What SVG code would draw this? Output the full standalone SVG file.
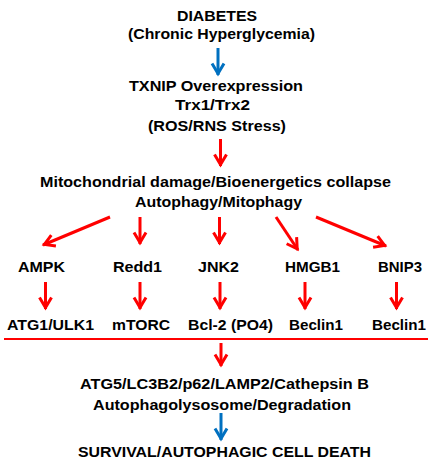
<svg xmlns="http://www.w3.org/2000/svg" width="437" height="471" viewBox="0 0 437 471">
<style>
text{font-family:"Liberation Sans",Arial,sans-serif;font-weight:bold;font-size:15px;fill:#000;text-anchor:middle}
.r{stroke:#FF0000;stroke-width:3;fill:none}
.b{stroke:#0070C0;stroke-width:3;fill:none}
</style>
<defs>
<marker id="mr" markerUnits="userSpaceOnUse" viewBox="-12 -8 16 16" markerWidth="16" markerHeight="16" refX="1.5" refY="0" orient="auto">
<path d="M-10,-6 L0,0 L-10,6" fill="none" stroke="#FF0000" stroke-width="3"/>
</marker>
<marker id="mb" markerUnits="userSpaceOnUse" viewBox="-12 -8 16 16" markerWidth="16" markerHeight="16" refX="1.5" refY="0" orient="auto">
<path d="M-10,-6 L0,0 L-10,6" fill="none" stroke="#0070C0" stroke-width="3"/>
</marker>
</defs>
<g id="connectors">
<line class="b" x1="218" y1="48" x2="218" y2="75" marker-end="url(#mb)"/>
<line class="r" x1="220.5" y1="139" x2="220.5" y2="166" marker-end="url(#mr)"/>
<line class="r" x1="110" y1="217" x2="43" y2="245" marker-end="url(#mr)"/>
<line class="r" x1="140" y1="217" x2="140" y2="244" marker-end="url(#mr)"/>
<line class="r" x1="219.5" y1="217" x2="219.5" y2="244" marker-end="url(#mr)"/>
<line class="r" x1="276" y1="217" x2="298" y2="250" marker-end="url(#mr)"/>
<line class="r" x1="316" y1="217" x2="386" y2="246" marker-end="url(#mr)"/>
<line class="r" x1="45.5" y1="282" x2="45.5" y2="309" marker-end="url(#mr)"/>
<line class="r" x1="140" y1="282" x2="140" y2="309" marker-end="url(#mr)"/>
<line class="r" x1="220" y1="282" x2="220" y2="309" marker-end="url(#mr)"/>
<line class="r" x1="305" y1="282" x2="305" y2="309" marker-end="url(#mr)"/>
<line class="r" x1="396.5" y1="282" x2="396.5" y2="309" marker-end="url(#mr)"/>
<line x1="4" y1="339" x2="428" y2="339" stroke="#FF0000" stroke-width="2"/>
<line class="r" x1="221" y1="343" x2="221" y2="366" marker-end="url(#mr)"/>
<line class="b" x1="221" y1="413" x2="221" y2="440" marker-end="url(#mb)"/>
</g>
<g id="diabetes">
<text x="217" y="21" textLength="80" lengthAdjust="spacingAndGlyphs">DIABETES</text>
<text x="221.5" y="39" textLength="187" lengthAdjust="spacingAndGlyphs">(Chronic Hyperglycemia)</text>
</g>
<g id="txnip">
<text x="216" y="90.5" textLength="174" lengthAdjust="spacingAndGlyphs">TXNIP Overexpression</text>
<text x="212.5" y="110" textLength="75" lengthAdjust="spacingAndGlyphs">Trx1/Trx2</text>
<text x="217" y="130.5" textLength="138" lengthAdjust="spacingAndGlyphs">(ROS/RNS Stress)</text>
</g>
<g id="mito">
<text x="215.5" y="186.5" textLength="351" lengthAdjust="spacingAndGlyphs">Mitochondrial damage/Bioenergetics collapse</text>
<text x="218.5" y="206.5" textLength="167" lengthAdjust="spacingAndGlyphs">Autophagy/Mitophagy</text>
</g>
<g id="ampk"><text x="41.5" y="272" textLength="47" lengthAdjust="spacingAndGlyphs">AMPK</text></g>
<g id="redd1"><text x="137.5" y="272" textLength="49" lengthAdjust="spacingAndGlyphs">Redd1</text></g>
<g id="jnk2"><text x="218.5" y="272" textLength="41" lengthAdjust="spacingAndGlyphs">JNK2</text></g>
<g id="hmgb1"><text x="312.5" y="272" textLength="55" lengthAdjust="spacingAndGlyphs">HMGB1</text></g>
<g id="bnip3"><text x="400" y="272" textLength="44" lengthAdjust="spacingAndGlyphs">BNIP3</text></g>
<g id="atg1"><text x="50.5" y="330" textLength="87" lengthAdjust="spacingAndGlyphs">ATG1/ULK1</text></g>
<g id="mtorc"><text x="141" y="330" textLength="58" lengthAdjust="spacingAndGlyphs">mTORC</text></g>
<g id="bcl2"><text x="230.5" y="330" textLength="85" lengthAdjust="spacingAndGlyphs">Bcl-2 (PO4)</text></g>
<g id="beclin1a"><text x="316" y="330" textLength="54" lengthAdjust="spacingAndGlyphs">Beclin1</text></g>
<g id="beclin1b"><text x="399" y="330" textLength="54" lengthAdjust="spacingAndGlyphs">Beclin1</text></g>
<g id="atg5">
<text x="224.5" y="389" textLength="289" lengthAdjust="spacingAndGlyphs">ATG5/LC3B2/p62/LAMP2/Cathepsin B</text>
<text x="222" y="410" textLength="258" lengthAdjust="spacingAndGlyphs">Autophagolysosome/Degradation</text>
</g>
<g id="survival"><text x="224.5" y="456.5" textLength="293" lengthAdjust="spacingAndGlyphs">SURVIVAL/AUTOPHAGIC CELL DEATH</text></g>
</svg>
